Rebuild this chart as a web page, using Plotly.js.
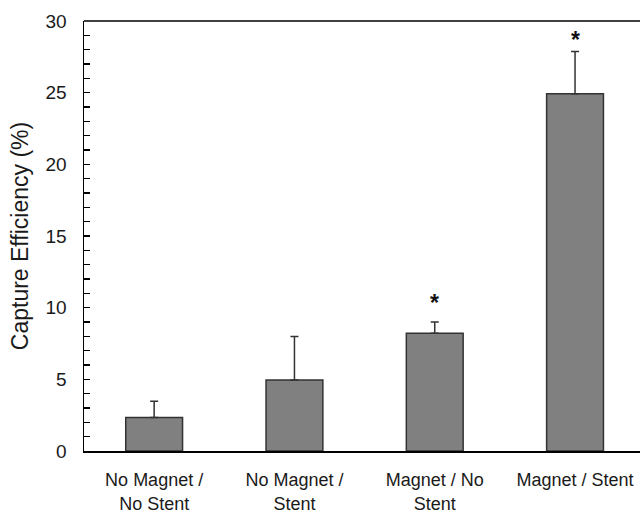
<!DOCTYPE html>
<html>
<head>
<meta charset="utf-8">
<script src="https://cdn.plot.ly/plotly-3.0.1.min.js"></script>
<style>html,body{margin:0;padding:0;background:#fff;overflow:hidden}</style>
</head>
<body>
<div id="chart" style="width:640px;height:515px"></div>
<script>
var categories = ["No Magnet /<br>No Stent", "No Magnet /<br>Stent", "Magnet / No<br>Stent", "Magnet / Stent"];
var efficiency = [2.33, 4.96, 8.22, 24.93];
var errorPlus = [1.14, 3.02, 0.78, 2.95];
var significant = [false, false, true, true];
var yTickValues = [0, 5, 10, 15, 20, 25, 30];

var FONT = "Liberation Sans, Arial, sans-serif";
var xIdx = categories.map(function (c, i) { return i; });
var starShift = [0, 0, 4, -4];

var trace = {
  type: "bar",
  x: xIdx,
  y: efficiency,
  width: 0.405,
  marker: { color: "#808080", line: { color: "#333333", width: 1.5 } },
  error_y: {
    type: "data",
    symmetric: false,
    array: errorPlus,
    arrayminus: efficiency.map(function () { return 0; }),
    color: "#333333",
    thickness: 1.5,
    width: 4
  },
  hoverinfo: "none"
};

var annotations = [];
significant.forEach(function (s, i) {
  if (!s) return;
  annotations.push({
    x: i, xref: "x",
    y: efficiency[i] + errorPlus[i], yref: "y",
    text: "<b>*</b>",
    showarrow: false,
    yanchor: "bottom",
    yshift: starShift[i],
    font: { family: FONT, size: 23, color: "#111111" }
  });
});

var layout = {
  width: 640,
  height: 515,
  margin: { l: 84, r: 0, t: 21, b: 64 },
  paper_bgcolor: "#ffffff",
  plot_bgcolor: "#ffffff",
  showlegend: false,
  font: { family: FONT, color: "#1a1a1a" },
  xaxis: {
    range: [-0.5, 3.463],
    tickmode: "array",
    tickvals: xIdx,
    ticktext: categories,
    ticks: "",
    showgrid: false,
    zeroline: false,
    showline: true,
    linecolor: "#000000",
    linewidth: 1.5,
    tickfont: { family: FONT, size: 18, color: "#1a1a1a" },
    ticklabelstandoff: 12
  },
  yaxis: {
    range: [0, 30],
    tickmode: "array",
    tickvals: yTickValues,
    ticks: "inside",
    ticklen: 6,
    tickwidth: 1.5,
    tickcolor: "#000000",
    minor: { dtick: 1, ticks: "inside", ticklen: 6, tickwidth: 1.5, tickcolor: "#000000" },
    showgrid: false,
    zeroline: false,
    showline: true,
    linecolor: "#000000",
    linewidth: 1.5,
    tickfont: { family: FONT, size: 19, color: "#1a1a1a" },
    ticklabelstandoff: 12,
    title: { text: "Capture Efficiency (%)", font: { family: FONT, size: 23, color: "#1a1a1a" }, standoff: 10 }
  },
  shapes: [{
    type: "line", xref: "paper", yref: "paper",
    x0: 0, x1: 1, y0: 1, y1: 1,
    line: { color: "#000000", width: 1.5 }
  }],
  annotations: annotations
};

Plotly.newPlot("chart", [trace], layout, { staticPlot: true, displayModeBar: false });
</script>
</body>
</html>
